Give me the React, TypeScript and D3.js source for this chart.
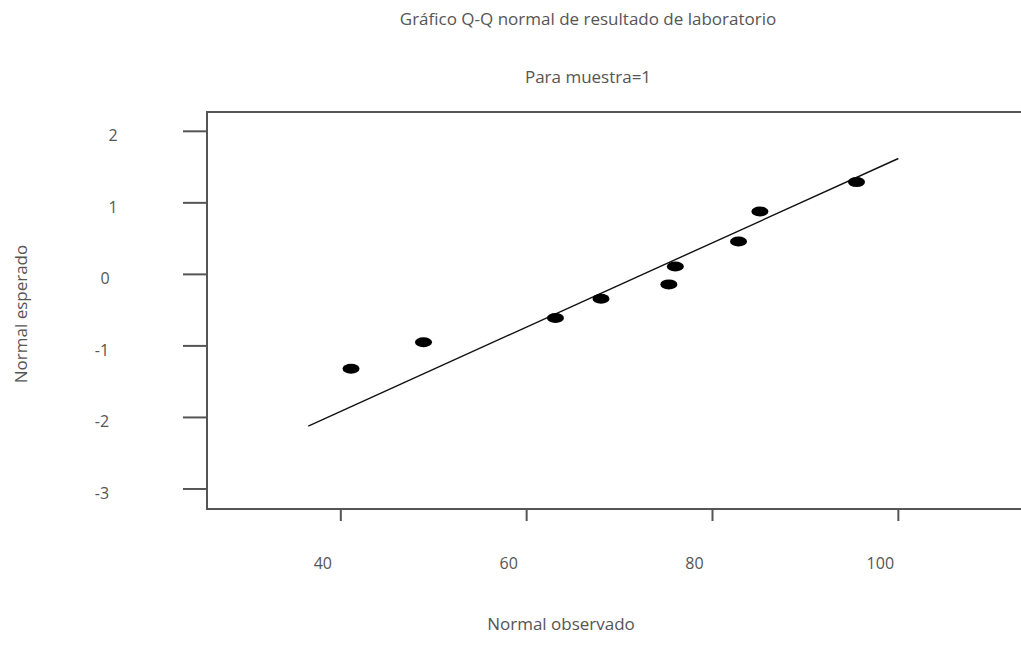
import React, { useEffect, useRef } from 'react';
import * as d3 from 'd3';

// observed values (x) and expected normal (y)
const observed = [41.1, 48.9, 63.1, 68.0, 75.3, 76.0, 82.8, 85.1, 95.5];
const expected = [-1.32, -0.95, -0.61, -0.34, -0.14, 0.11, 0.46, 0.88, 1.29];

// reference line end points
const lineX = [36.5, 100];
const lineY = [-2.12, 1.62];

const xTicks = [40, 60, 80, 100];
const yTicks = [2, 1, 0, -1, -2, -3];

const title = 'Gráfico Q-Q normal de resultado de laboratorio';
const subtitle = 'Para muestra=1';
const xLabel = 'Normal observado';
const yLabel = 'Normal esperado';

function App() {
    const ref = useRef<SVGSVGElement>(null);

    useEffect(() => {
        drawChart();
    }, []);

    function drawChart() {
        const width = 1021;
        const height = 661;
        const svg = d3.select(ref.current);
        svg.selectAll('*').remove();

        const margin = { top: 112, right: 0, bottom: 152, left: 207 };
        const font = '"Open Sans", sans-serif';
        const textColor = '#555';

        const x = d3.scaleLinear()
            .domain([25.6, 113.2])
            .range([margin.left, width - margin.right]);

        const y = d3.scaleLinear()
            .domain([-3.28, 2.27])
            .range([height - margin.bottom, margin.top]);

        const axisColor = '#555';

        // frame: left, top, bottom
        svg.append('path')
            .attr('d', `M${width},${margin.top}H${margin.left}V${height - margin.bottom}H${width}`)
            .attr('fill', 'none')
            .attr('stroke', axisColor)
            .attr('stroke-width', 2);

        // y ticks
        const yg = svg.append('g');
        yg.selectAll('line')
            .data(yTicks)
            .join('line')
            .attr('x1', margin.left - 24)
            .attr('x2', margin.left)
            .attr('y1', d => y(d))
            .attr('y2', d => y(d))
            .attr('stroke', axisColor)
            .attr('stroke-width', 2);
        yg.selectAll('text')
            .data(yTicks)
            .join('text')
            .attr('x', d => d > 0 ? 113 : d === 0 ? 105 : 102)
            .attr('y', d => y(d) + 10)
            .attr('text-anchor', 'middle')
            .attr('font-family', font)
            .attr('font-size', 16)
            .attr('fill', textColor)
            .text(d => d);

        // x ticks
        const xg = svg.append('g');
        xg.selectAll('line')
            .data(xTicks)
            .join('line')
            .attr('x1', d => x(d))
            .attr('x2', d => x(d))
            .attr('y1', height - margin.bottom)
            .attr('y2', height - margin.bottom + 12)
            .attr('stroke', axisColor)
            .attr('stroke-width', 2);
        xg.selectAll('text')
            .data(xTicks)
            .join('text')
            .attr('x', d => x(d) - 18)
            .attr('y', 569)
            .attr('text-anchor', 'middle')
            .attr('font-family', font)
            .attr('font-size', 16)
            .attr('fill', textColor)
            .text(d => d);

        // reference line
        const line = d3.line<number>()
            .x(d => x(d))
            .y((d, i) => y(lineY[i]));
        svg.append('path')
            .attr('d', line(lineX))
            .attr('fill', 'none')
            .attr('stroke', '#111')
            .attr('stroke-width', 1.4);

        // points
        svg.append('g')
            .selectAll('ellipse')
            .data(observed)
            .join('ellipse')
            .attr('cx', d => x(d))
            .attr('cy', (d, i) => y(expected[i]))
            .attr('rx', 8.5)
            .attr('ry', 5)
            .attr('fill', '#000');

        // titles
        const label = (txt: string, tx: number, ty: number, rot = 0) =>
            svg.append('text')
                .attr('transform', `translate(${tx},${ty}) rotate(${rot})`)
                .attr('text-anchor', 'middle')
                .attr('font-family', font)
                .attr('font-size', 17)
                .attr('fill', textColor)
                .text(txt);

        label(title, 588, 25);
        label(subtitle, 588, 83);
        label(xLabel, 561, 630);
        label(yLabel, 27, 314, -90);
    }

    return (
        <svg
            ref={ref}
            width={1021}
            height={661}
            style={{ position: 'absolute', left: 0, top: 0, background: '#fff' }}
        />
    );
}

export default App;
